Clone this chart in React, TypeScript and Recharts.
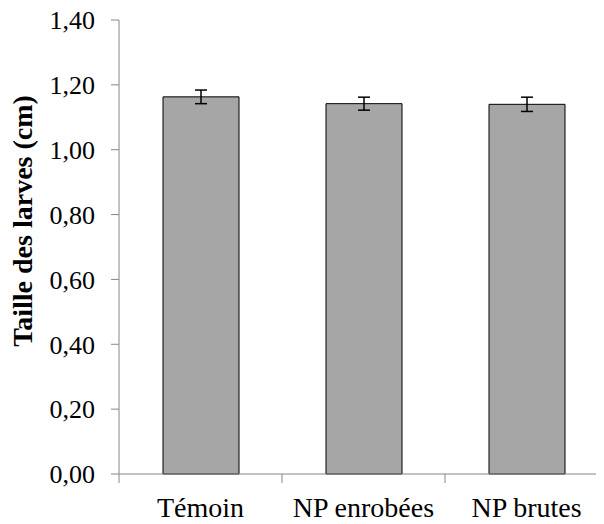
import React from "react";
import { BarChart, Bar, XAxis, YAxis, ErrorBar } from "recharts";

const categories = ["Témoin", "NP enrobées", "NP brutes"];
const sizes = [1.163, 1.142, 1.14];
const errors = [0.021, 0.02, 0.022];
const yTicks = [0, 0.2, 0.4, 0.6, 0.8, 1.0, 1.2, 1.4];

const data = categories.map((name, i) => ({ name, size: sizes[i], err: errors[i] }));

const W = 600;
const H = 524;
const Y_W = 111;
const FONT = "Liberation Serif";
const AXIS = "#868686";
const HALF_BAND = (W - Y_W) / categories.length / 2;

const XTick = ({ x, y, payload, index }: any) => (
  <g>
    {index === 0 && <line x1={x - HALF_BAND} y1={y} x2={x - HALF_BAND} y2={y + 9} stroke={AXIS} />}
    <line x1={x + HALF_BAND} y1={y} x2={x + HALF_BAND} y2={y + 9} stroke={AXIS} />
    <text x={x} y={y + 23} dy="0.71em" textAnchor="middle" style={{ fontSize: 28, fontFamily: FONT }} fill="#000">
      {payload.value}
    </text>
  </g>
);

const App: React.FC = () => {
  return (
    <div style={{ width: 596, height: H, marginTop: -8, overflow: "hidden", fontFamily: FONT }}>
      <BarChart width={W} height={H} data={data} margin={{ top: 20, right: 0, left: 0, bottom: 0 }}>
        <XAxis
          dataKey="name"
          height={50}
          axisLine={{ stroke: AXIS }}
          tickLine={false}
          tickSize={0}
          tickMargin={0}
          interval={0}
          tick={<XTick />}
        />
        <YAxis
          width={Y_W}
          domain={[0, 1.4]}
          ticks={yTicks}
          interval={0}
          axisLine={{ stroke: AXIS }}
          tickLine={{ stroke: AXIS }}
          tickSize={8}
          tickMargin={16}
          tick={{ fontSize: 26, fill: "#000", style: { fontFamily: FONT } }}
          tickFormatter={(v: number) => v.toFixed(2).replace(".", ",")}
          label={{
            content: () => (
              <text
                x={14}
                y={221}
                transform="rotate(-90 14 221)"
                textAnchor="middle"
                dominantBaseline="central"
                style={{ fontSize: 28, fontWeight: "bold", fontFamily: FONT }}
                fill="#000"
              >
                Taille des larves (cm)
              </text>
            ),
          }}
        />
        <Bar dataKey="size" barSize={76} fill="#a6a6a6" stroke="#000" strokeWidth={1} isAnimationActive={false}>
          <ErrorBar dataKey="err" width={6} stroke="#000" strokeWidth={1.5} direction="y" />
        </Bar>
      </BarChart>
    </div>
  );
};

export default App;
